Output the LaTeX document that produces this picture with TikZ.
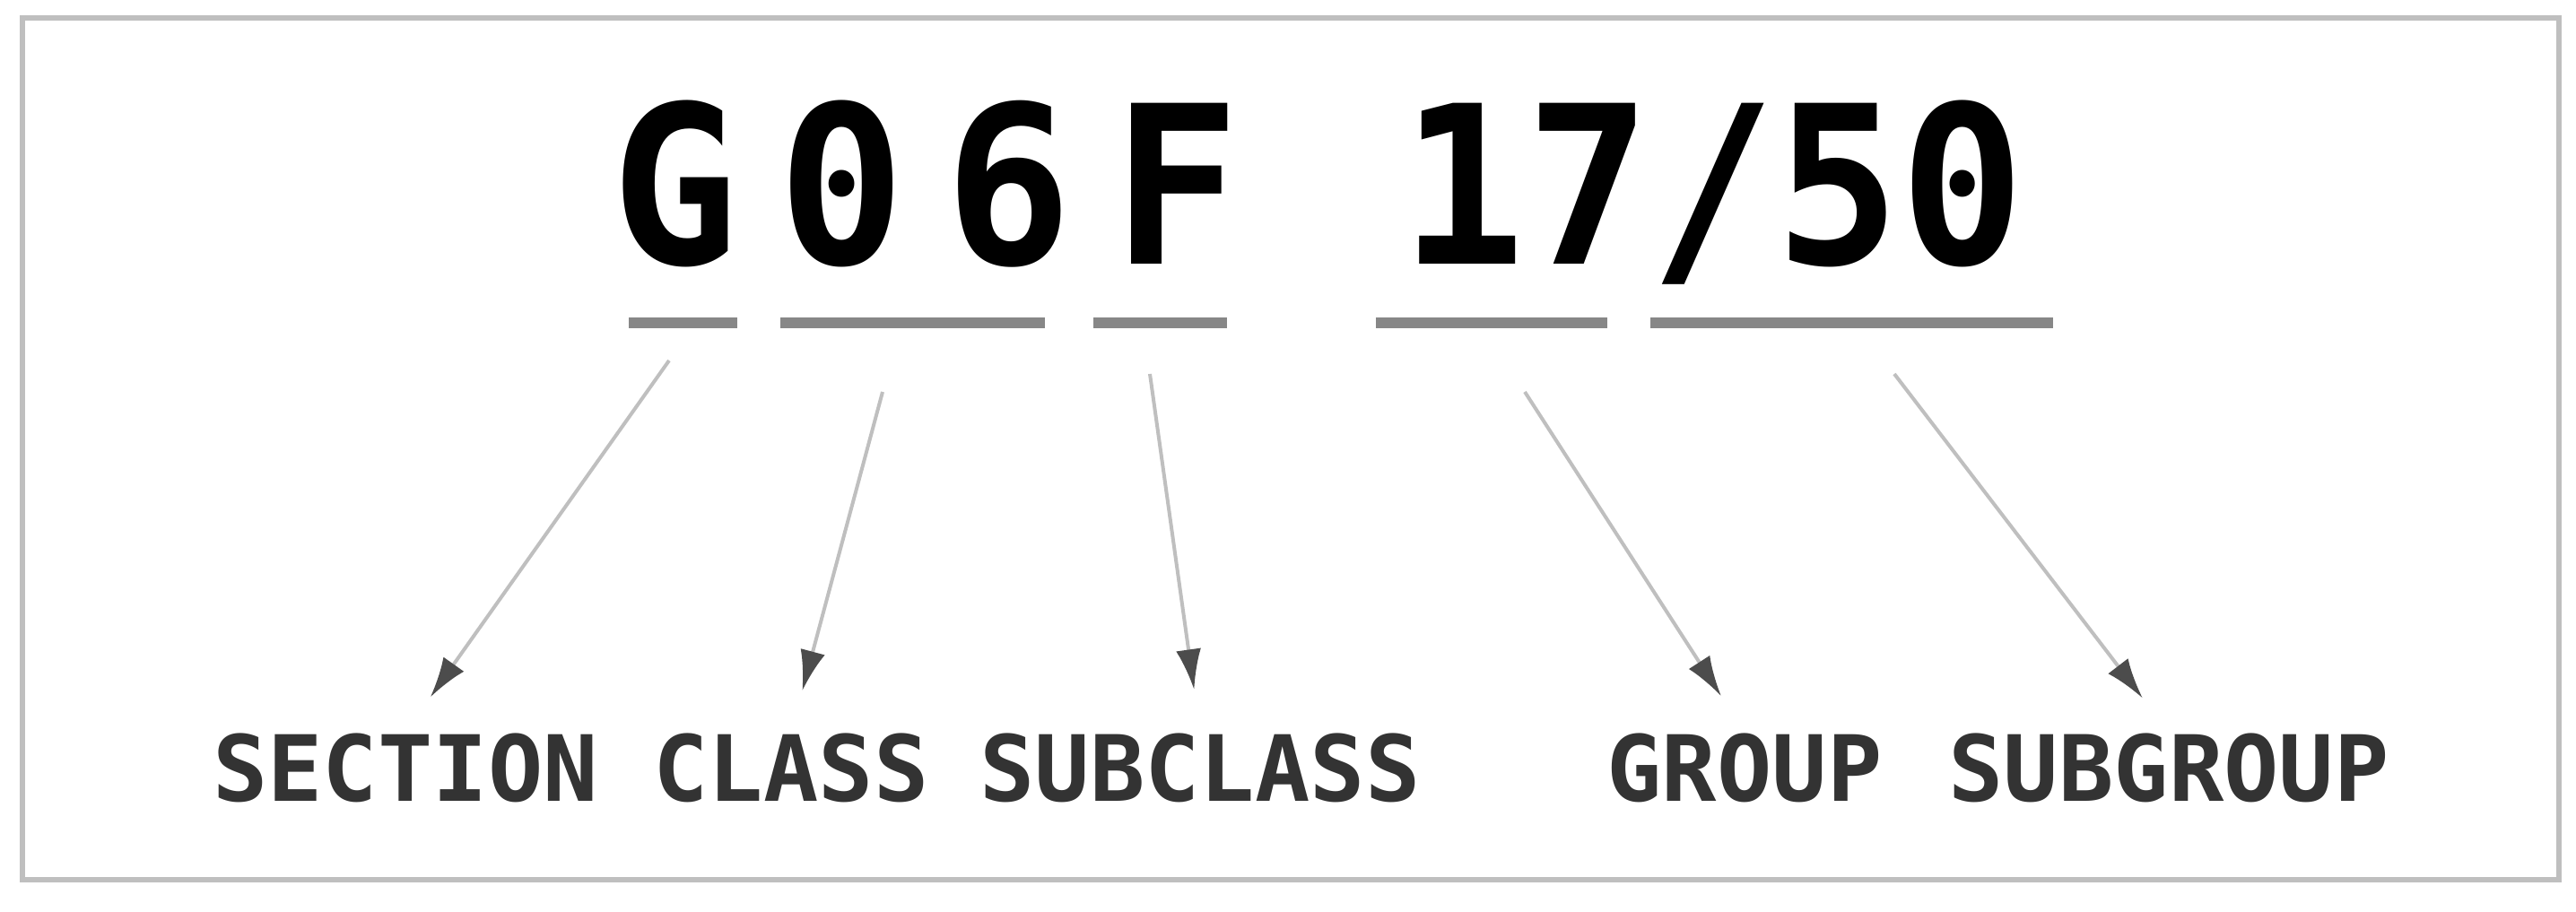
\documentclass[tikz,border=0pt]{standalone}
\usepackage{fontspec}
\setmonofont{DejaVu Sans Mono}
\usetikzlibrary{arrows.meta}

\begin{document}
\begin{tikzpicture}[
  uline/.style={fill=black!47, inner sep=0, minimum height=.12cm},
  big/.style={font=\ttfamily\bfseries\fontsize{70}{70}\selectfont, inner sep=0, anchor=base},
  part/.style={font=\ttfamily\bfseries\fontsize{29}{29}\selectfont, text=black!80, inner sep=0, anchor=base},
  arr/.style={draw=black!25, line width=.04cm, shorten >=.48cm, -{Latex[length=.45cm, width=.28cm, color=black!70]}}
]
\useasboundingbox (0,0) rectangle (28.72,-10.17);
\draw [black!25, line width=.06cm] (.25,-.20) rectangle (28.53,-9.81);

% the code
\node [big] (code1) at (10.32,-2.95) {\scalebox{0.96}[1]{G\hspace{.46cm}0\hspace{.46cm}6\hspace{.46cm}F}};
\node [big] (code2) at (19.10,-2.95) {\scalebox{0.94}[1]{17/50}};

% underlines
\node [uline, minimum width=1.21cm] (u1) at (7.61,-3.60) {};
\node [uline, minimum width=2.95cm] (u2) at (10.17,-3.60) {};
\node [uline, minimum width=1.49cm] (u3) at (12.93,-3.60) {};
\node [uline, minimum width=2.58cm] (u4) at (16.63,-3.60) {};
\node [uline, minimum width=4.49cm] (u5) at (20.64,-3.60) {};

% names of the parts
\node [part] (sec) at (4.52,-8.93) {SECTION};
\node [part] (cls) at (8.82,-8.93) {CLASS};
\node [part] (scls) at (13.38,-8.93) {SUBCLASS};
\node [part] (grp) at (19.45,-8.93) {GROUP};
\node [part] (sgrp) at (24.18,-8.93) {SUBGROUP};

\coordinate (s1) at (7.46,-4.02);
\coordinate (s2) at (9.84,-4.37);
\coordinate (s3) at (12.82,-4.17);
\coordinate (s4) at (17.00,-4.37);
\coordinate (s5) at (21.12,-4.17);

\draw [arr] (s1) -- (sec.north);
\draw [arr] (s2) -- (cls.north);
\draw [arr] (s3) -- (scls.north);
\draw [arr] (s4) -- (grp.north);
\draw [arr] (s5) -- (sgrp.north);
\end{tikzpicture}
\end{document}
